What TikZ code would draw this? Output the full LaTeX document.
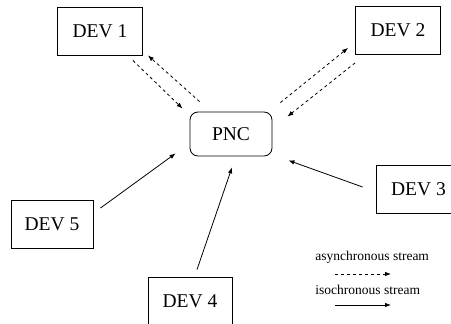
\documentclass[tikz,border=0pt]{standalone}
\usepackage{fontspec}
\setmainfont{Liberation Serif}
\usetikzlibrary{arrows.meta,calc}

\begin{document}
\begin{tikzpicture}[x=1pt, y=-1pt, line width=0.8pt,
  dev/.style={draw, minimum width=85pt, minimum height=48pt, inner sep=0pt,
    font=\fontsize{19.5}{23}\selectfont},
  hub/.style={draw, rounded corners=8pt, minimum width=82pt, minimum height=44pt,
    inner sep=0pt, font=\fontsize{19.5}{23}\selectfont},
  tip/.style={-{Latex[length=6pt, width=4.5pt]}},
  async/.style={tip, dash pattern=on 3pt off 3pt},
  iso/.style={tip},
  legend/.style={anchor=west, inner sep=0pt, font=\fontsize{13.5}{16}\selectfont}]
  \useasboundingbox (0,0) rectangle (451,324);
  \node[hub] (pnc) at (231,134) {PNC};
  \node[dev] (dev1) at (100,31) {DEV 1};
  \node[dev] (dev2) at (398,30.5) {DEV 2};
  \node[dev] (dev3) at (418.5,189) {DEV 3};
  \node[dev, minimum width=82pt] (dev5) at (52,224.5) {DEV 5};
  \node[dev, minimum width=84pt] (dev4) at (190,301) {DEV 4};
  % asynchronous links
  \draw[async] ($(dev1.south east)+(-10,5)$) -- ($(pnc.north west)+(-7,-3)$);
  \draw[async] ($(pnc.north west)+(10,-10)$) -- ($(dev1.south east)+(5,0)$);
  \draw[async] ($(pnc.north east)+(8,-9)$) -- ($(dev2.south west)+(-7,-7)$);
  \draw[async] ($(dev2.south west)+(0,8)$) -- ($(pnc.north east)+(15,5)$);
  % isochronous links
  \draw[iso] ($(dev3.west)+(-13,-2)$) -- ($(pnc.south east)+(16,4)$);
  \draw[iso] ($(dev5.north east)+(7,8)$) -- ($(pnc.south west)+(-14,-3)$);
  \draw[iso] ($(dev4.north)+(7,-7)$) -- ($(pnc.south)+(1,11)$);
  % legend
  \node[legend] (asynctext) at (315,257) {asynchronous stream};
  \node[legend] (isotext) at (315,290) {isochronous stream};
  \coordinate (async-a) at (335,274);
  \coordinate (async-b) at (391,274);
  \coordinate (iso-a) at (335,305);
  \coordinate (iso-b) at (391,305);
  \draw[async] (async-a) -- (async-b);
  \draw[iso] (iso-a) -- (iso-b);
\end{tikzpicture}
\end{document}
